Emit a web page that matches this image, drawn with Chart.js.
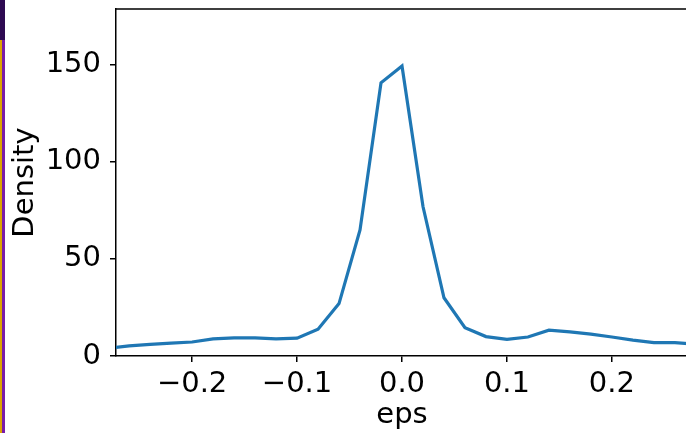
<!DOCTYPE html>
<html>
<head>
<meta charset="utf-8">
<script src="https://cdn.jsdelivr.net/npm/chart.js@4"></script>
<style>
  html, body { margin: 0; padding: 0; background: #fff; overflow: hidden; }
  #wrap { position: relative; width: 690px; height: 433px; }
  #edge-top { position: absolute; left: 0; top: 0; width: 5px; height: 40px; background: #2e0a52; }
  #edge-a { position: absolute; left: 0; top: 40px; width: 2px; height: 393px; background: #dca400; }
  #edge-b { position: absolute; left: 2px; top: 40px; width: 3px; height: 393px; background: #7a1ca8; }
</style>
</head>
<body>
<div id="wrap">
  <canvas id="chart" width="690" height="433"></canvas>
  <div id="edge-top"></div>
  <div id="edge-a"></div>
  <div id="edge-b"></div>
</div>
<script>
//Values
const eps = [-0.28, -0.26, -0.24, -0.22, -0.20, -0.18, -0.16, -0.14, -0.12, -0.10,
             -0.08, -0.06, -0.04, -0.02, 0.00, 0.02, 0.04, 0.06, 0.08, 0.10,
             0.12, 0.14, 0.16, 0.18, 0.20, 0.22, 0.24, 0.26, 0.28];
const density = [4.0, 5.2, 6.0, 6.6, 7.2, 8.8, 9.3, 9.3, 8.8, 9.2,
                 13.8, 27.0, 65.0, 140.8, 149.4, 77.0, 30.0, 14.6, 10.0, 8.6,
                 9.8, 13.3, 12.4, 11.3, 9.8, 8.2, 6.9, 6.9, 6.1];
const xTicks = [-0.2, -0.1, 0.0, 0.1, 0.2];
const yTicks = [0, 50, 100, 150];

const font = { family: 'DejaVu Sans', size: 29 };

//Formats like matplotlib, with a real minus sign
function fmt(v) {
    var s = v.toFixed(1);
    if (Math.abs(v) < 1e-9) s = '0.0';
    return s.replace('-', '\u2212');
}

//Draws the top and right spine
const frame = {
    id: 'frame',
    afterDraw(chart) {
        const a = chart.chartArea;
        const ctx = chart.ctx;
        ctx.save();
        ctx.strokeStyle = '#000';
        ctx.lineWidth = 1.5;
        ctx.beginPath();
        ctx.moveTo(a.left, a.top);
        ctx.lineTo(a.right, a.top);
        ctx.lineTo(a.right, a.bottom);
        ctx.stroke();
        ctx.restore();
    }
};

new Chart(document.getElementById('chart'), {
    type: 'line',
    data: {
        datasets: [{
            data: eps.map((x, i) => ({ x: x, y: density[i] })),
            borderColor: '#1f77b4',
            borderWidth: 3.2,
            pointRadius: 0,
            tension: 0,
            fill: false
        }]
    },
    options: {
        responsive: false,
        animation: false,
        layout: { padding: { top: 9, right: 2, left: 0, bottom: 0 } },
        plugins: { legend: { display: false }, tooltip: { enabled: false } },
        scales: {
            x: {
                type: 'linear',
                min: -0.2725,
                max: 0.2725,
                afterFit: (s) => { s.height = 77; s.paddingLeft = 0; s.paddingRight = 0; },
                afterBuildTicks: (s) => { s.ticks = xTicks.map(v => ({ value: v })); },
                ticks: { font: font, color: '#000', padding: 5, callback: (v) => fmt(v), maxRotation: 0 },
                grid: { drawOnChartArea: false, tickLength: 6, color: '#000', lineWidth: 1.5 },
                border: { display: true, color: '#000', width: 1.5 },
                title: { display: true, text: 'eps', font: font, color: '#000', padding: 0 }
            },
            y: {
                min: 0,
                max: 178.8,
                afterFit: (s) => { s.width = 116; s.paddingTop = 0; s.paddingBottom = 0; },
                afterBuildTicks: (s) => { s.ticks = yTicks.map(v => ({ value: v })); },
                ticks: { font: font, color: '#000', padding: 9 },
                grid: { drawOnChartArea: false, tickLength: 6, color: '#000', lineWidth: 1.5 },
                border: { display: true, color: '#000', width: 1.5 },
                title: { display: true, text: 'Density', font: font, color: '#000', padding: 8 }
            }
        }
    },
    plugins: [frame]
});
</script>
</body>
</html>
